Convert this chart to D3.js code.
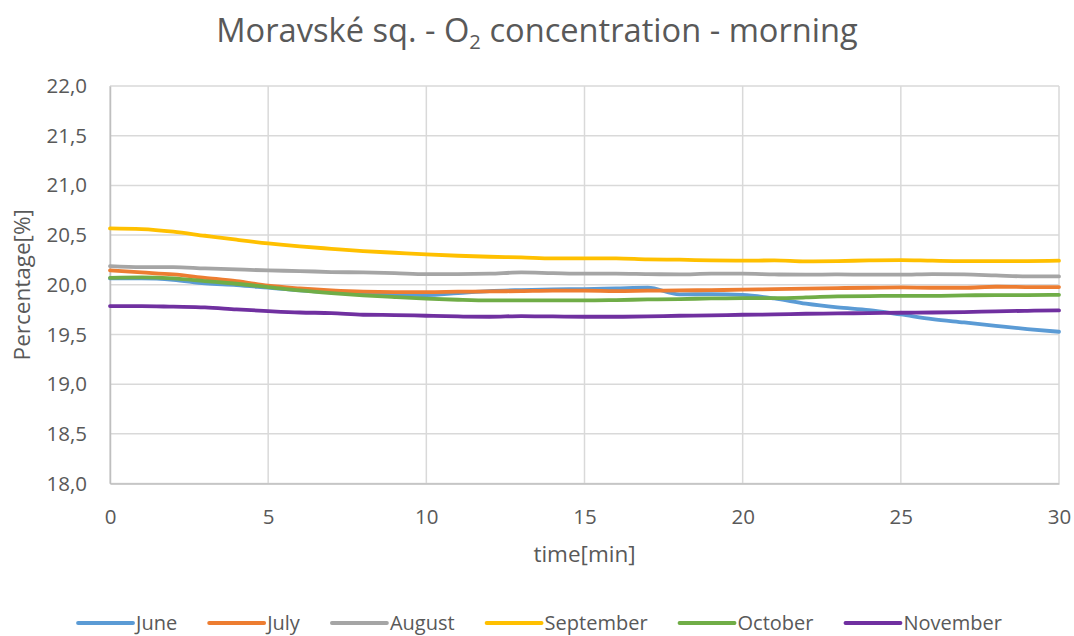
<!DOCTYPE html>
<html>
<head>
<meta charset="utf-8">
<script src="https://cdn.jsdelivr.net/npm/d3@7"></script>
<style>
  body { margin: 0; background: #fff; }
  text { font-family: "Open Sans", "Liberation Sans", sans-serif; fill: #595959; }
</style>
</head>
<body>
<svg id="visu" width="1074" height="636"></svg>
<script>
var minutes = [0, 1, 2, 3, 4, 5, 6, 7, 8, 9, 10, 11, 12, 13, 14, 15, 16, 17, 18, 19, 20,
  21, 22, 23, 24, 25, 26, 27, 28, 29, 30];

var june = [20.064, 20.064, 20.05, 20.013, 19.997, 19.970, 19.943, 19.923, 19.909, 19.903, 19.896,
  19.916, 19.936, 19.946, 19.953, 19.956, 19.963, 19.970, 19.903, 19.906, 19.898,
  19.862, 19.809, 19.772, 19.745, 19.701, 19.654, 19.621, 19.587, 19.554, 19.527];
var july = [20.144, 20.124, 20.104, 20.070, 20.037, 19.990, 19.963, 19.943, 19.930, 19.926, 19.926,
  19.930, 19.933, 19.936, 19.940, 19.940, 19.936, 19.940, 19.943, 19.946, 19.950,
  19.956, 19.960, 19.966, 19.970, 19.973, 19.970, 19.970, 19.980, 19.977, 19.977];
var august = [20.188, 20.178, 20.178, 20.164, 20.154, 20.144, 20.138, 20.128, 20.124, 20.117, 20.107,
  20.107, 20.111, 20.124, 20.117, 20.111, 20.111, 20.107, 20.104, 20.111, 20.111,
  20.104, 20.101, 20.104, 20.101, 20.101, 20.107, 20.104, 20.094, 20.084, 20.084];
var september = [20.567, 20.560, 20.534, 20.493, 20.453, 20.416, 20.386, 20.362, 20.339, 20.322, 20.305,
  20.292, 20.282, 20.275, 20.265, 20.265, 20.265, 20.255, 20.252, 20.245, 20.242,
  20.245, 20.235, 20.238, 20.245, 20.248, 20.242, 20.238, 20.238, 20.238, 20.242];
var october = [20.070, 20.074, 20.064, 20.037, 20.010, 19.977, 19.943, 19.916, 19.893, 19.876, 19.861,
  19.849, 19.842, 19.842, 19.842, 19.842, 19.846, 19.852, 19.856, 19.862, 19.866,
  19.866, 19.872, 19.883, 19.886, 19.889, 19.889, 19.893, 19.896, 19.896, 19.899];
var november = [19.785, 19.785, 19.779, 19.772, 19.752, 19.735, 19.721, 19.715, 19.698, 19.695, 19.688,
  19.681, 19.678, 19.685, 19.681, 19.678, 19.678, 19.681, 19.688, 19.691, 19.698,
  19.701, 19.708, 19.711, 19.715, 19.718, 19.721, 19.725, 19.732, 19.738, 19.742];

var seriesNames = ["June", "July", "August", "September", "October", "November"];
var seriesValues = [june, july, august, september, october, november];
var seriesColors = ["#5b9bd5", "#ed7d31", "#a5a5a5", "#ffc000", "#70ad47", "#7030a0"];

var xTicks = [0, 5, 10, 15, 20, 25, 30];
var yTicks = [18.0, 18.5, 19.0, 19.5, 20.0, 20.5, 21.0, 21.5, 22.0];

var W = 1074;
var plotLeft = 110, plotRight = 1059, plotTop = 86, plotBottom = 483.5;
var lineWidth = 3.8;

var svg = d3.select("#visu");

var xScale = d3.scaleLinear().domain([0, 30]).range([plotLeft, plotRight]);
var yScale = d3.scaleLinear().domain([18, 22]).range([plotBottom, plotTop]);

var fmt = function (d) {
  return d3.format(".1f")(d).replace(".", ",");
};

// gridlines
svg.append("g")
  .selectAll("line")
  .data(yTicks)
  .enter()
  .append("line")
  .attr("x1", plotLeft)
  .attr("x2", plotRight)
  .attr("y1", function (d) { return yScale(d); })
  .attr("y2", function (d) { return yScale(d); })
  .attr("stroke", "#d9d9d9")
  .attr("stroke-width", 1.5);

svg.append("g")
  .selectAll("line")
  .data(xTicks)
  .enter()
  .append("line")
  .attr("x1", function (d) { return xScale(d); })
  .attr("x2", function (d) { return xScale(d); })
  .attr("y1", plotTop)
  .attr("y2", plotBottom)
  .attr("stroke", "#d9d9d9")
  .attr("stroke-width", 1.5);

// axes
var xAxis = d3.axisBottom(xScale).tickValues(xTicks).tickSize(0).tickPadding(26).tickFormat(d3.format("d"));
var yAxis = d3.axisLeft(yScale).tickValues(yTicks).tickSize(0).tickPadding(23).tickFormat(fmt);

var gx = svg.append("g").attr("transform", "translate(0," + plotBottom + ")").call(xAxis);
var gy = svg.append("g").attr("transform", "translate(" + plotLeft + ",0)").call(yAxis);

[gx, gy].forEach(function (g) {
  g.select(".domain").attr("stroke", "#bfbfbf").attr("stroke-width", 1.5);
  g.selectAll("text")
    .attr("font-family", "'Open Sans', sans-serif")
    .attr("font-size", "20.5px")
    .attr("fill", "#595959");
});

// lines
var line = d3
  .line()
  .x(function (d, i) { return xScale(minutes[i]); })
  .y(function (d) { return yScale(d); })
  .curve(d3.curveMonotoneX);

svg.append("g")
  .selectAll("path")
  .data(seriesValues)
  .enter()
  .append("path")
  .attr("d", function (d) { return line(d); })
  .attr("fill", "none")
  .attr("stroke", function (d, i) { return seriesColors[i]; })
  .attr("stroke-width", lineWidth)
  .attr("stroke-linecap", "round")
  .attr("stroke-linejoin", "round");

// titles
var title = svg.append("text")
  .attr("x", W / 2)
  .attr("y", 42)
  .attr("text-anchor", "middle")
  .attr("font-size", "30px");
title.append("tspan").text("Moravské sq. - O");
title.append("tspan").text("2").attr("font-size", "19px").attr("dy", 7);
title.append("tspan").text(" concentration - morning").attr("dy", -7);

// fit title width to reference
var tw = title.node().getComputedTextLength();
var fs = 30 * 642 / tw;
title.attr("font-size", fs + "px");
title.select("tspan:nth-child(2)").attr("font-size", (fs * 0.62) + "px");

svg.append("text")
  .attr("x", (plotLeft + plotRight) / 2)
  .attr("y", 562)
  .attr("text-anchor", "middle")
  .attr("font-size", "22.5px")
  .text("time[min]");

svg.append("text")
  .attr("transform", "translate(30," + (plotTop + plotBottom) / 2 + ") rotate(-90)")
  .attr("text-anchor", "middle")
  .attr("font-size", "22.5px")
  .text("Percentage[%]");

// legend
var legend = svg.append("g");
var items = legend.selectAll("g")
  .data(seriesNames)
  .enter()
  .append("g");

items.append("line")
  .attr("x1", 0)
  .attr("x2", 55)
  .attr("y1", 0)
  .attr("y2", 0)
  .attr("stroke", function (d, i) { return seriesColors[i]; })
  .attr("stroke-width", lineWidth)
  .attr("stroke-linecap", "round");

items.append("text")
  .attr("x", 58)
  .attr("y", 7)
  .attr("font-size", "20px")
  .text(function (d) { return d; });

var pos = 0;
var offsets = [];
items.each(function () {
  offsets.push(pos);
  var tl = d3.select(this).select("text").node().getComputedTextLength();
  pos += 58 + tl + 32;
});
var total = pos - 32;
var startX = 540 - total / 2;
items.attr("transform", function (d, i) {
  return "translate(" + (startX + offsets[i]) + ",623)";
});
</script>
</body>
</html>
